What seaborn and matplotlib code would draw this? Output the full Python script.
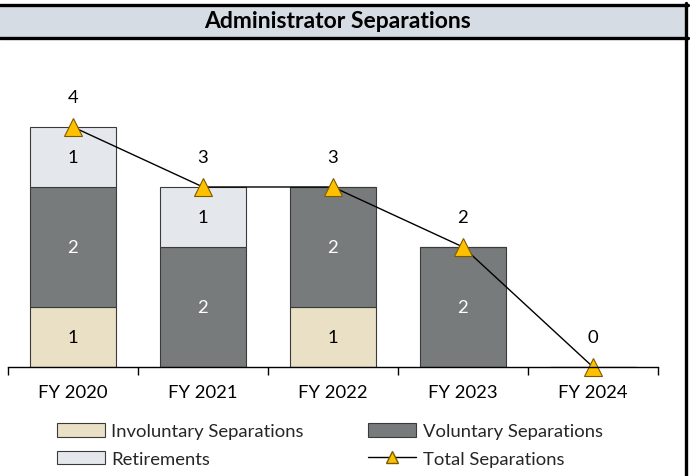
import numpy as np
import seaborn as sns
import matplotlib.pyplot as plt
from matplotlib.patches import Patch, Rectangle
from matplotlib.lines import Line2D

years = ["FY 2020", "FY 2021", "FY 2022", "FY 2023", "FY 2024"]
involuntary = [1, 0, 1, 0, 0]
voluntary = [2, 2, 2, 2, 0]
retirements = [1, 1, 0, 0, 0]
totals = [4, 3, 3, 2, 0]

c_inv = "#E9E0C5"
c_vol = "#787B7B"
c_ret = "#E4E7EC"
c_tri = "#FFC000"

sns.set_theme(style="white")
plt.rcParams['font.family'] = ['Lato', 'DejaVu Sans']

fig = plt.figure(figsize=(6.9, 4.77), dpi=100)
ax = fig.add_axes([8 / 690, 1 - 368 / 477, 650 / 690, 318 / 477])

inv = np.array(involuntary)
vol = np.array(voluntary)
ret = np.array(retirements)
edge = dict(edgecolor="#3a3a3a", linewidth=0.8)

sns.barplot(x=years, y=inv, color=c_inv, saturation=1, errorbar=None, width=0.66, ax=ax, **edge)
sns.barplot(x=years, y=vol, bottom=inv, color=c_vol, saturation=1, errorbar=None, width=0.66, ax=ax, **edge)
sns.barplot(x=years, y=ret, bottom=inv + vol, color=c_ret, saturation=1, errorbar=None, width=0.66, ax=ax, **edge)

pos = np.arange(len(years))
sns.lineplot(x=pos, y=totals, color="black", linewidth=1, marker="^", markersize=13,
             markerfacecolor=c_tri, markeredgecolor="#7a5c00", markeredgewidth=0.8,
             clip_on=False, ax=ax)

fs = 13.3
for i in pos:
    if inv[i]:
        ax.text(i, inv[i] / 2, str(inv[i]), ha="center", va="center", fontsize=fs, color="black")
    if vol[i]:
        ax.text(i, inv[i] + vol[i] / 2, str(vol[i]), ha="center", va="center", fontsize=fs, color="white")
    if ret[i]:
        ax.text(i, inv[i] + vol[i] + ret[i] / 2, str(ret[i]), ha="center", va="center", fontsize=fs, color="black")
    ax.text(i, totals[i] + 0.5, str(totals[i]), ha="center", va="center", fontsize=fs, color="black")

ax.set_xlim(-0.5, 4.5)
ax.set_ylim(0, 5.3)
ax.set_yticks([])
ax.set_ylabel("")
for s in ["left", "right", "top"]:
    ax.spines[s].set_visible(False)
ax.spines["bottom"].set_color("black")
ax.spines["bottom"].set_linewidth(1)
ax.set_xticks(pos)
ax.set_xticklabels(years, fontsize=fs)
ax.set_xticks(np.arange(-0.5, 5, 1), minor=True)
ax.tick_params(axis="x", which="major", length=0, pad=12, colors="black")
ax.tick_params(axis="x", which="minor", length=6, width=1, direction="out", color="black", bottom=True)
ax.patch.set_alpha(0)

handles = [
    Patch(facecolor=c_inv, edgecolor="#3a3a3a", linewidth=0.8),
    Patch(facecolor=c_ret, edgecolor="#3a3a3a", linewidth=0.8),
    Patch(facecolor=c_vol, edgecolor="#3a3a3a", linewidth=0.8),
    Line2D([0], [0], color="black", linewidth=1, marker="^", markersize=9,
           markerfacecolor=c_tri, markeredgecolor="#7a5c00"),
]
labels = ["Involuntary Separations", "Retirements", "Voluntary Separations", "Total Separations"]
fig.legend(handles, labels, ncol=2, loc="center", bbox_to_anchor=(0.478, 1 - 446 / 477),
           frameon=False, fontsize=fs, handlelength=2.6, handleheight=0.75, handletextpad=0.35,
           columnspacing=3.5, labelspacing=0.6)

# title banner
fig.patches.append(Rectangle((0, 1 - 38 / 477), 686 / 690, 32 / 477, transform=fig.transFigure,
                             facecolor="#D6DCE4", edgecolor="none", zorder=0))
fig.add_artist(Line2D([0, 688 / 690], [1 - 5.5 / 477] * 2, color="black", linewidth=2.4, transform=fig.transFigure))
fig.add_artist(Line2D([0, 688 / 690], [1 - 39 / 477] * 2, color="black", linewidth=2.4, transform=fig.transFigure))
fig.add_artist(Line2D([686 / 690] * 2, [0, 1 - 4 / 477], color="black", linewidth=2.4, transform=fig.transFigure))
fig.text(337 / 690, 1 - 21.5 / 477, "Administrator Separations", ha="center", va="center",
         fontsize=16.5, fontweight="bold", color="black")

fig.savefig("out.png", dpi=100)
